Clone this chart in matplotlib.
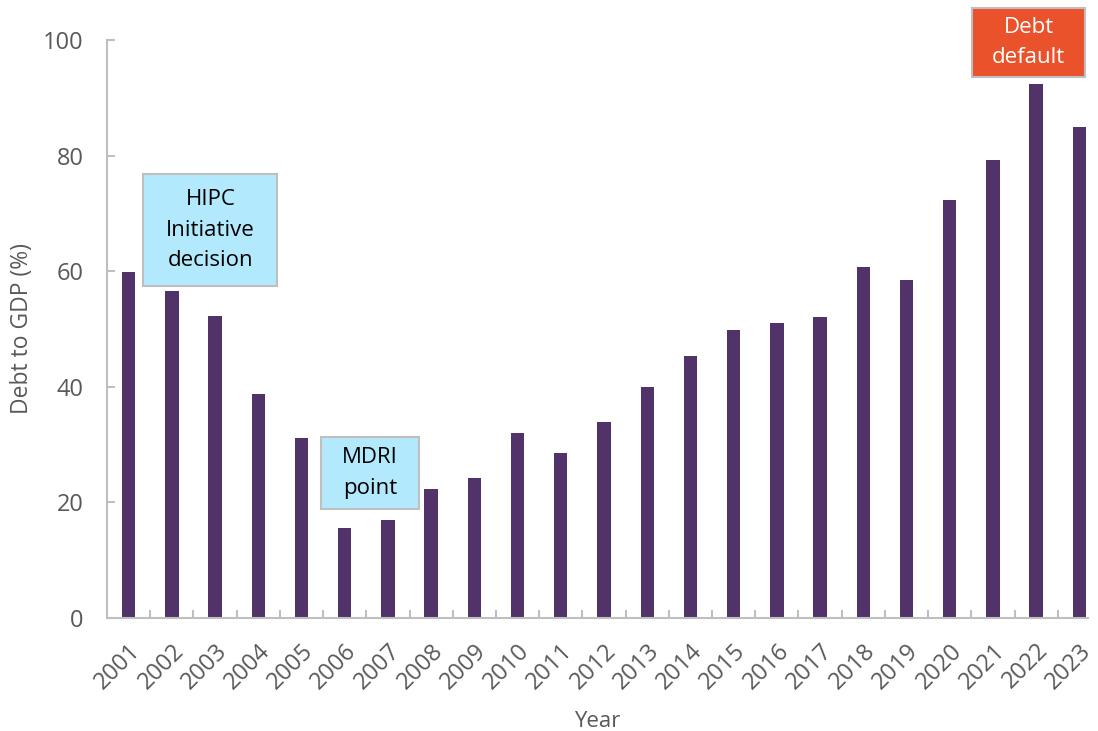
import matplotlib.pyplot as plt
from matplotlib.patches import Rectangle

plt.rcParams['font.family'] = ['Open Sans', 'DejaVu Sans']

# Datos
anios = [str(a) for a in range(2001, 2024)]
deuda_pib = [59.8, 56.5, 52.3, 38.7, 31.1, 15.5, 16.9, 22.3, 24.2, 32.0, 28.5,
             33.9, 39.9, 45.4, 49.9, 51.1, 52.0, 60.8, 58.4, 72.4, 79.3, 92.4, 85.0]

# Anotaciones: texto, caja (x0, x1, y0, y1), color de fondo, color del texto
notas = [
    ('HIPC\nInitiative\ndecision', (0.34, 3.44, 57.4, 76.8), '#B3E9FC', 'black'),
    ('MDRI\npoint', (4.45, 6.72, 18.9, 31.3), '#B3E9FC', 'black'),
    ('Debt\ndefault', (19.51, 22.14, 93.6, 105.5), '#E9522A', 'white'),
]

gris = '#595959'
fig = plt.figure(figsize=(10.98, 7.31), dpi=100)
ax = fig.add_axes([0.0975, 0.1546, 0.8934, 0.7907])

x = range(len(anios))
ax.bar(x, deuda_pib, width=0.31, color='#523369', zorder=2)

ax.set_xlim(-0.5, 22.2)
ax.set_ylim(0, 100)
ax.set_yticks(range(0, 101, 20))
ax.set_xticks(list(x))
ax.set_xticklabels(anios, rotation=45, ha='right', rotation_mode='anchor',
                   fontsize=17, color=gris)
ax.set_xticks([i + 0.5 for i in range(len(anios) - 1)], minor=True)
ax.tick_params(axis='x', which='major', length=0, pad=15)
ax.tick_params(axis='x', which='minor', direction='in', length=6,
               color='#BFBFBF', width=1.5)
ax.tick_params(axis='y', direction='in', length=6, color='#BFBFBF',
               width=1.5, labelsize=17, labelcolor=gris, pad=17)

for lado in ['top', 'right']:
    ax.spines[lado].set_visible(False)
for lado in ['left', 'bottom']:
    ax.spines[lado].set_color('#BFBFBF')
    ax.spines[lado].set_linewidth(1.5)

ax.set_ylabel('Debt to GDP (%)', fontsize=16.5, color=gris, labelpad=6)
ax.set_xlabel('Year', fontsize=16, color=gris, labelpad=12)

for texto, (x0, x1, y0, y1), fondo, color_txt in notas:
    ax.add_patch(Rectangle((x0, y0), x1 - x0, y1 - y0, facecolor=fondo,
                           edgecolor='#BFBFBF', linewidth=1.5, zorder=3,
                           clip_on=False))
    ax.text((x0 + x1) / 2, (y0 + y1) / 2, texto, ha='center', va='center',
            fontsize=16, color=color_txt, linespacing=1.6, zorder=4)

fig.savefig('out.png', dpi=100)
